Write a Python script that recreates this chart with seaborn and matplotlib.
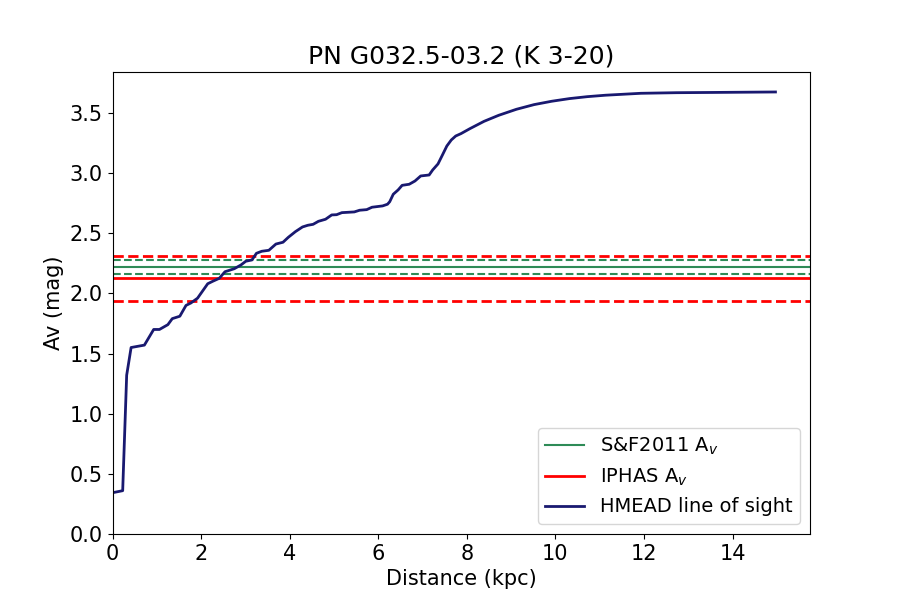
import numpy as np
import pandas as pd
import matplotlib
matplotlib.use("Agg")
import matplotlib.pyplot as plt
import seaborn as sns

# HMEAD extinction along the line of sight
distance = [0.0, 0.23, 0.32, 0.42, 0.72, 0.93, 1.06, 1.25, 1.35, 1.52, 1.66, 1.77,
            1.92, 2.15, 2.26, 2.41, 2.54, 2.75, 2.90, 3.01, 3.15, 3.25, 3.37, 3.53,
            3.69, 3.85, 3.97, 4.13, 4.29, 4.41, 4.53, 4.65, 4.81, 4.95, 5.06, 5.18,
            5.46, 5.58, 5.74, 5.86, 6.10, 6.21, 6.26, 6.34, 6.45, 6.54, 6.70, 6.83,
            6.96, 7.15, 7.23, 7.35, 7.45, 7.55, 7.65, 7.75, 7.87, 8.07, 8.39, 8.72,
            9.12, 9.52, 9.92, 10.32, 10.72, 11.13, 11.93, 12.74, 13.54, 14.97]
av = [0.343, 0.36, 1.32, 1.55, 1.57, 1.70, 1.70, 1.74, 1.79, 1.81, 1.90, 1.92,
      1.96, 2.08, 2.10, 2.125, 2.18, 2.205, 2.236, 2.267, 2.278, 2.333, 2.35, 2.358,
      2.41, 2.425, 2.466, 2.513, 2.552, 2.566, 2.574, 2.599, 2.616, 2.652, 2.654, 2.671,
      2.677, 2.691, 2.696, 2.716, 2.727, 2.741, 2.762, 2.824, 2.86, 2.898, 2.907, 2.934,
      2.976, 2.984, 3.026, 3.076, 3.15, 3.225, 3.275, 3.308, 3.328, 3.369, 3.43, 3.48,
      3.53, 3.569, 3.597, 3.619, 3.635, 3.647, 3.663, 3.668, 3.67, 3.674]

# S&F2011 and IPHAS values with upper / lower bounds
sf_av, sf_hi, sf_lo = 2.22, 2.278, 2.165
iphas_av, iphas_hi, iphas_lo = 2.128, 2.311, 1.937

df = pd.DataFrame({"Distance": distance, "Av": av})

fig, ax = plt.subplots(figsize=(9, 6), dpi=100)

ax.axhline(sf_av, color="seagreen", lw=1.5, label="S&F2011 A$_v$")
ax.axhline(sf_hi, color="seagreen", lw=1.5, ls="--")
ax.axhline(sf_lo, color="seagreen", lw=1.5, ls="--")

ax.axhline(iphas_av, color="red", lw=2, label="IPHAS A$_v$")
ax.axhline(iphas_hi, color="red", lw=2, ls="--")
ax.axhline(iphas_lo, color="red", lw=2, ls="--")

sns.lineplot(data=df, x="Distance", y="Av", ax=ax, color="midnightblue", lw=2,
             label="HMEAD line of sight")

ax.set_xlim(0, 15.75)
ax.set_ylim(0, 3.84)
ax.set_title("PN G032.5-03.2 (K 3-20)", fontsize=18)
ax.set_xlabel("Distance (kpc)", fontsize=15)
ax.set_ylabel("Av (mag)", fontsize=15)
ax.tick_params(labelsize=15)
ax.legend(loc="lower right", fontsize=14)

plt.savefig("out.png")
plt.close()
